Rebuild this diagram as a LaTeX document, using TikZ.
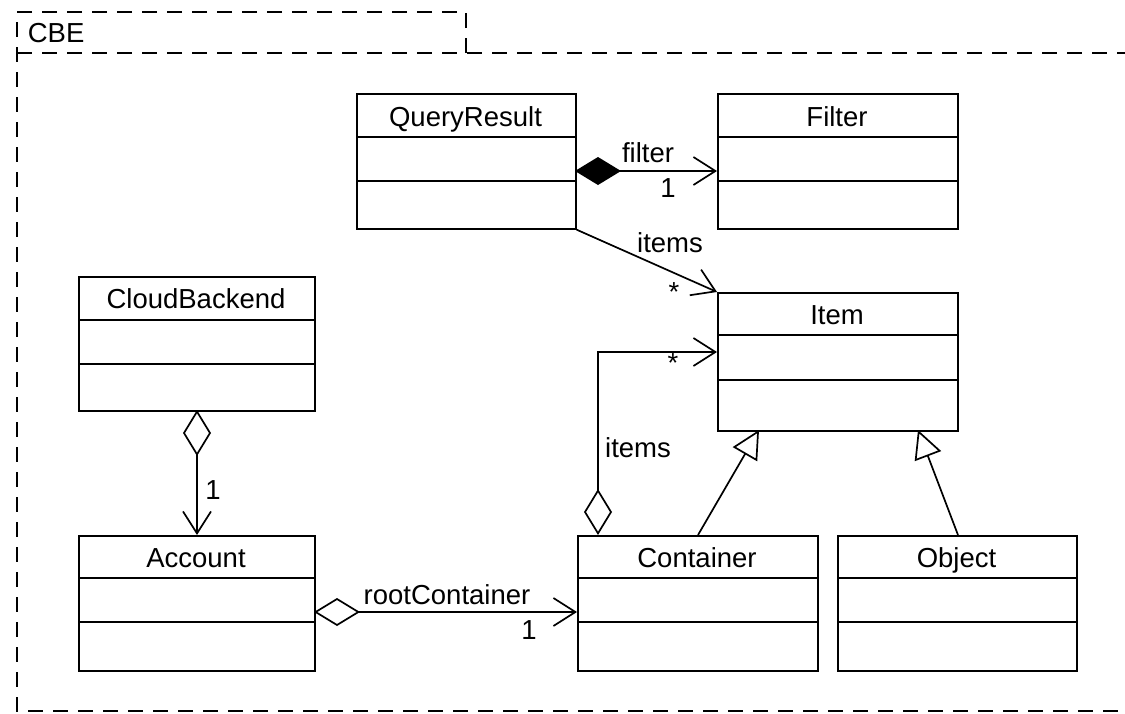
\documentclass[tikz,border=0pt]{standalone}
\usepackage{fontspec}
\setmainfont{Liberation Sans}
\usetikzlibrary{arrows.meta,calc}
\begin{document}
\begin{tikzpicture}[x=1pt,y=-1pt, line width=1.7pt,
  cls/.style={draw, rectangle, anchor=north west, inner sep=0pt},
  ttl/.style={font=\fontsize{27.5}{32}\selectfont, inner sep=0pt, anchor=base},
  lbl/.style={font=\fontsize{27.5}{32}\selectfont, inner sep=0pt},
  frm/.style={dash pattern=on 15pt off 10pt},
  nav/.style={-{Straight Barb[length=22pt,width=28pt]}},
  comp/.style={{Diamond[length=46pt,width=28pt]}-{Straight Barb[length=22pt,width=28pt]}},
  aggr/.style={{Diamond[open,length=46pt,width=28pt]}-{Straight Barb[length=22pt,width=28pt]}},
  gen/.style={-{Triangle[open,length=28pt,width=28pt]}}
]
\useasboundingbox (0,0) rectangle (1125,713);
\begin{scope}
\clip (0,0) rectangle (1125,713);
% package frame
\draw[frm] (466,53) -- (466,12) -- (17,12) -- (17,711) -- (1140,711);
\draw[frm] (17,53) -- (1140,53);
\end{scope}
\node[lbl, anchor=west] (cbe) at (27,33) {CBE};

% classes
\node[cls, minimum width=219pt, minimum height=135pt] (qr) at (356,93) {};
\node[ttl] (qrt) at (465.5,126) {QueryResult};
\draw (356,137) -- (575,137) (356,181) -- (575,181);

\node[cls, minimum width=240pt, minimum height=135pt] (flt) at (717,93) {};
\node[ttl] (fltt) at (837,126) {Filter};
\draw (717,137) -- (957,137) (717,181) -- (957,181);

\node[cls, minimum width=236pt, minimum height=134pt] (cb) at (78,276) {};
\node[ttl] (cbt) at (196,308) {CloudBackend};
\draw (78,320) -- (314,320) (78,364) -- (314,364);

\node[cls, minimum width=240pt, minimum height=138pt] (item) at (717,292) {};
\node[ttl] (itemt) at (837,324) {Item};
\draw (717,335) -- (957,335) (717,380) -- (957,380);

\node[cls, minimum width=236pt, minimum height=135pt] (acc) at (78,535) {};
\node[ttl] (acct) at (196,567) {Account};
\draw (78,578) -- (314,578) (78,622) -- (314,622);

\node[cls, minimum width=240pt, minimum height=135pt] (cont) at (577,535) {};
\node[ttl] (contt) at (697,567) {Container};
\draw (577,578) -- (817,578) (577,622) -- (817,622);

\node[cls, minimum width=239pt, minimum height=135pt] (obj) at (837,535) {};
\node[ttl] (objt) at (956.5,567) {Object};
\draw (837,578) -- (1076,578) (837,622) -- (1076,622);

% connectors
\coordinate (qrf) at (575,171);
\coordinate (fltq) at (717,171);
\draw[comp] (qrf) -- (fltq);
\node[lbl] (l1) at (648,153) {filter};
\node[lbl] (l2) at (668,188) {1};

\draw[nav] (qr.south east) -- (item.north west);
\node[lbl] (l3) at (670,243) {items};
\node[lbl] (l4) at (674,292) {*};

\coordinate (cti) at (598,535);
\coordinate (itc) at (717,352);
\draw[aggr] (cti) |- (itc);
\node[lbl] (l5) at (638,448) {items};
\node[lbl] (l6) at (673,363) {*};

\coordinate (cg) at (698,535);
\coordinate (ig1) at (759,430);
\draw[gen] (cg) -- (ig1);
\coordinate (og) at (958,535);
\coordinate (ig2) at (918,430);
\draw[gen] (og) -- (ig2);

\coordinate (cba) at (197,410);
\coordinate (acb) at (197,535);
\draw[aggr] (cba) -- (acb);
\node[lbl] (l7) at (213,490) {1};

\coordinate (acc1) at (314,612);
\coordinate (cont1) at (577,612);
\draw[aggr] (acc1) -- (cont1);
\node[lbl] (l8) at (447,595) {rootContainer};
\node[lbl] (l9) at (529,630) {1};
\end{tikzpicture}
\end{document}
